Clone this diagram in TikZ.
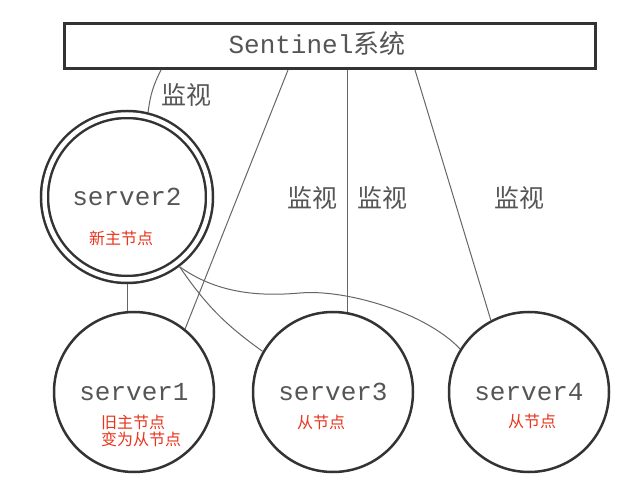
\documentclass[tikz,border=0pt]{standalone}
\usepackage{fontspec}
\setmonofont{Liberation Mono}
\newfontfamily\cjk{Noto Sans CJK SC}
\definecolor{dark}{HTML}{333333}
\definecolor{ln}{HTML}{666666}
\definecolor{txt}{HTML}{555555}
\definecolor{redtxt}{HTML}{E8341C}
\tikzset{
  srv/.style={circle, draw=dark, line width=2.5pt, minimum size=160pt, inner sep=0pt,
    fill=white, font=\ttfamily\fontsize{26}{26}\selectfont, text=txt},
  conn/.style={draw=ln, line width=1pt},
  watch/.style={font=\cjk\fontsize{25}{25}\selectfont, text=txt, inner sep=0pt},
  note/.style={font=\cjk\fontsize{16}{16}\selectfont, text=redtxt, inner sep=0pt},
}
\begin{document}
\begin{tikzpicture}[x=1pt,y=-1pt]
\useasboundingbox (0,0) rectangle (632,494);
\fill[white] (0,0) rectangle (632,494);
% Sentinel box
\node[draw=dark, line width=3pt, minimum width=531pt, minimum height=45pt, inner sep=0pt, fill=white] (box) at (329.5,46) {};
\node[font=\fontsize{26}{26}\selectfont, text=txt, inner sep=0pt] (title) at (317,44) {\ttfamily Sentinel\cjk 系统};
% servers
\node[srv, double=white, double distance=4.5pt, minimum size=165pt, outer sep=4.75pt] (s2) at (127,197) {server2};
\node[srv] (s1) at (134,392) {server1};
\node[srv] (s3) at (333,392) {server3};
\node[srv] (s4) at (529,392) {server4};
% connectors
\draw[conn] ([xshift=98.5pt]box.south west) to[bend right=10] (s2.76);
\draw[conn] ([xshift=225.5pt]box.south west) -- (s1.51);
\draw[conn] (s3.80 |- box.south) -- (s3.80);
\draw[conn] ([xshift=352.5pt]box.south west) -- (s4.118);
\draw[conn] (s2.south) -- (s2.south |- s1.north);
\draw[conn] (s2.-53) to[bend right=10] (s3.150);
\coordinate (wave) at (300,293);
\draw[conn] (s2.-53) .. controls (215,292) and (255,297) .. (wave)
  .. controls (345,289) and (425,312) .. (s4.148);
% labels
\node[watch] (w1) at (186,95) {监视};
\node[watch] (w2) at (312,198) {监视};
\node[watch] (w3) at (382,198) {监视};
\node[watch] (w4) at (519,198) {监视};
\node[note] (n2) at (121,238) {新主节点};
\node[note, anchor=west] (n1a) at (101,422) {旧主节点};
\node[note, anchor=west] (n1b) at (101,439) {变为从节点};
\node[note] (n3) at (321,422) {从节点};
\node[note] (n4) at (532,421) {从节点};
\end{tikzpicture}
\end{document}
